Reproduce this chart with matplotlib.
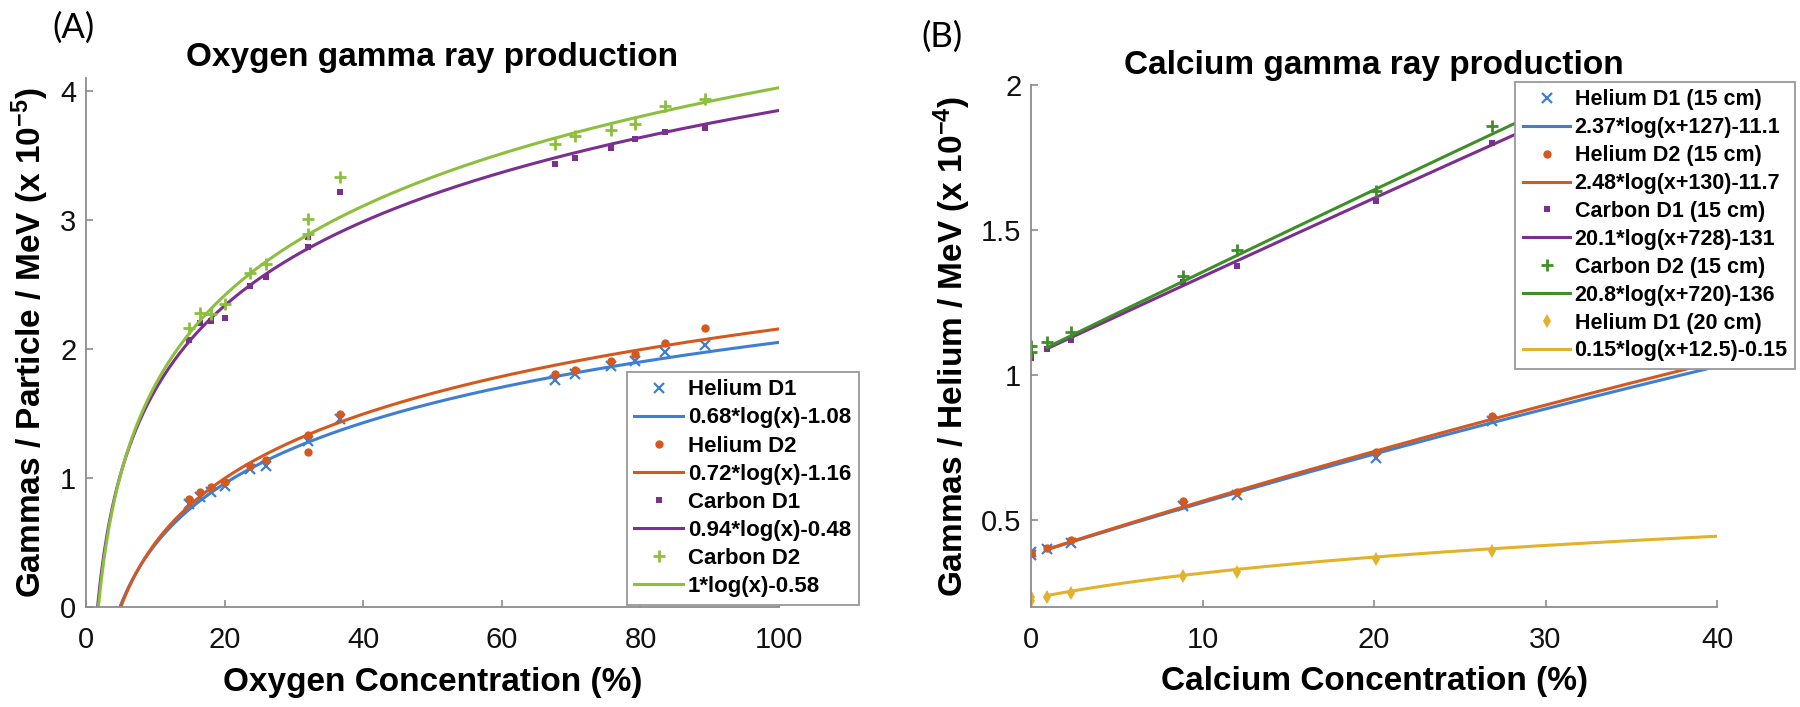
import numpy as np
import matplotlib
matplotlib.use("Agg")
import matplotlib.pyplot as plt

plt.rcParams['font.family'] = ['Liberation Sans', 'DejaVu Sans']
plt.rcParams['mathtext.fontset'] = 'custom'
plt.rcParams['mathtext.rm'] = 'Liberation Sans:bold'
plt.rcParams['mathtext.bf'] = 'Liberation Sans:bold'
plt.rcParams['mathtext.default'] = 'rm'

# ---- panel A: oxygen ----
o_x = [14.9, 16.5, 18.0, 20.0, 23.6, 25.9, 32.1, 36.7, 67.7, 70.6, 75.7, 79.2, 83.5, 89.3]
he_d1_o = [0.80, 0.85, 0.89, 0.94, 1.07, 1.09, 1.29, 1.46, 1.76, 1.81, 1.87, 1.91, 1.98, 2.03]
he_d2_o = [0.84, 0.89, 0.93, 0.97, 1.09, 1.14, 1.33, 1.50, 1.81, 1.84, 1.91, 1.96, 2.05, 2.16]
c_d1_o = [2.07, 2.20, 2.22, 2.24, 2.49, 2.56, 2.79, 3.22, 3.43, 3.48, 3.56, 3.63, 3.68, 3.71]
c_d2_o = [2.16, 2.28, 2.27, 2.35, 2.59, 2.66, 3.01, 3.33, 3.59, 3.65, 3.70, 3.74, 3.88, 3.94]
# extra repeated measurements at 32 %
o_x_extra = [32.1]
he_d2_o_extra = [1.20]
c_d1_o_extra = [2.87]
c_d2_o_extra = [2.89]

# fit y = a*log(x + b) + c
o_fit_a = [0.68, 0.72, 0.94, 1.0]
o_fit_b = [0, 0, 0, 0]
o_fit_c = [-1.08, -1.16, -0.48, -0.58]
o_names = ["Helium D1", "Helium D2", "Carbon D1", "Carbon D2"]
o_fit_labels = ["0.68*log(x)-1.08", "0.72*log(x)-1.16", "0.94*log(x)-0.48", "1*log(x)-0.58"]

# ---- panel B: calcium ----
ca_x = [0.0, 0.0, 0.95, 2.35, 8.85, 12.0, 20.1, 26.9]
he_d1_ca = [0.38, 0.39, 0.40, 0.42, 0.55, 0.585, 0.715, 0.84]
he_d2_ca = [0.385, 0.385, 0.405, 0.43, 0.565, 0.595, 0.735, 0.86]
c_d1_ca = [1.06, 1.07, 1.09, 1.12, 1.32, 1.375, 1.60, 1.80]
c_d2_ca = [1.08, 1.10, 1.115, 1.15, 1.34, 1.43, 1.635, 1.86]
he20_ca = [0.22, 0.235, 0.236, 0.247, 0.307, 0.322, 0.364, 0.394]

ca_fit_a = [2.37, 2.48, 20.1, 20.8, 0.15]
ca_fit_b = [127, 130, 728, 720, 12.5]
ca_fit_c = [-11.1, -11.69, -131.4, -135.78, -0.15]
ca_names = ["Helium D1 (15 cm)", "Helium D2 (15 cm)", "Carbon D1 (15 cm)",
            "Carbon D2 (15 cm)", "Helium D1 (20 cm)"]
ca_fit_labels = ["2.37*log(x+127)-11.1", "2.48*log(x+130)-11.7", "20.1*log(x+728)-131",
                 "20.8*log(x+720)-136", "0.15*log(x+12.5)-0.15"]

blue = '#3F7FD3'
orange = '#D5581F'
purple = '#7B2F8E'
lgreen = '#8DBF3E'
dgreen = '#3F8F29'
yellow = '#E3B12A'

mk = [dict(marker='x', ms=7, mew=1.6), dict(marker='o', ms=6, mew=0),
      dict(marker='s', ms=5, mew=0), dict(marker='+', ms=9, mew=2),
      dict(marker='d', ms=7, mew=0)]

fig = plt.figure(figsize=(18, 7.07), dpi=100)
axA = fig.add_axes([0.0478, 0.1414, 0.385, 0.7482])
axB = fig.add_axes([0.5728, 0.1414, 0.3811, 0.7383])


def style(ax):
    for s in ['top', 'right']:
        ax.spines[s].set_visible(False)
    for s in ['left', 'bottom']:
        ax.spines[s].set_color('#8c8c8c')
        ax.spines[s].set_linewidth(1.3)
    ax.tick_params(direction='in', length=5, width=1.2, color='#8c8c8c',
                   labelsize=21, labelcolor='#111111')
    ax.tick_params(axis='x', pad=14)
    ax.tick_params(axis='y', pad=7)


# panel A
colsA = [blue, orange, purple, lgreen]
ysA = [he_d1_o, he_d2_o, c_d1_o, c_d2_o]
extraA = [None, he_d2_o_extra, c_d1_o_extra, c_d2_o_extra]
xf = np.linspace(1, 100, 500)
handles = []
for i in range(4):
    ys = list(ysA[i])
    xs = list(o_x)
    if extraA[i] is not None:
        xs += o_x_extra
        ys += extraA[i]
    h1, = axA.plot(xs, ys, ls='none', color=colsA[i], mfc=colsA[i], mec=colsA[i],
                   label=o_names[i], **mk[i])
    h2, = axA.plot(xf, o_fit_a[i] * np.log(xf + o_fit_b[i]) + o_fit_c[i], color=colsA[i],
                   lw=2.2, label=o_fit_labels[i])
    handles += [h1, h2]
axA.set_xlim(0, 100)
axA.set_ylim(0, 4.1)
axA.set_xticks([0, 20, 40, 60, 80, 100])
axA.set_yticks([0, 1, 2, 3, 4])
style(axA)
axA.set_title("Oxygen gamma ray production", fontsize=24, fontweight='bold', pad=9)
axA.set_xlabel("Oxygen Concentration (%)", fontsize=24, fontweight='bold')
axA.set_ylabel("Gammas / Particle / MeV (x 10$^{-5}$)", fontsize=24, fontweight='bold')
axA.xaxis.set_label_coords(0.5, -0.142)
axA.xaxis.label.set_va('center')
axA.yaxis.set_label_coords(-0.081, 0.5)
axA.yaxis.label.set_va('center')
legA = axA.legend(handles=handles, loc='lower right', bbox_to_anchor=(1.115, 0.004),
                  borderaxespad=0, fancybox=False, framealpha=1, edgecolor='#999999',
                  prop={'weight': 'bold', 'size': 16}, handlelength=2.2,
                  handletextpad=0.2, labelspacing=0.32, borderpad=0.35)
legA.get_frame().set_linewidth(1.3)

# panel B
colsB = [blue, orange, purple, dgreen, yellow]
ysB = [he_d1_ca, he_d2_ca, c_d1_ca, c_d2_ca, he20_ca]
xf = np.linspace(0.95, 40, 300)
handles = []
for i in range(5):
    h1, = axB.plot(ca_x, ysB[i], ls='none', color=colsB[i], mfc=colsB[i], mec=colsB[i],
                   label=ca_names[i], **mk[i])
    h2, = axB.plot(xf, ca_fit_a[i] * np.log(xf + ca_fit_b[i]) + ca_fit_c[i], color=colsB[i],
                   lw=2.2, label=ca_fit_labels[i])
    handles += [h1, h2]
axB.set_xlim(0, 40)
axB.set_ylim(0.2, 2.0)
axB.set_xticks([0, 10, 20, 30, 40])
axB.set_yticks([0.5, 1, 1.5, 2])
axB.set_yticklabels(['0.5', '1', '1.5', '2'])
style(axB)
axB.set_title("Calcium gamma ray production", fontsize=24, fontweight='bold', pad=8)
axB.set_xlabel("Calcium Concentration (%)", fontsize=24, fontweight='bold')
axB.set_ylabel("Gammas / Helium / MeV (x 10$^{-4}$)", fontsize=24, fontweight='bold')
axB.xaxis.set_label_coords(0.5, -0.142)
axB.xaxis.label.set_va('center')
axB.yaxis.set_label_coords(-0.115, 0.5)
axB.yaxis.label.set_va('center')
legB = axB.legend(handles=handles, loc='upper right', bbox_to_anchor=(1.114, 1.006),
                  borderaxespad=0, fancybox=False, framealpha=1, edgecolor='#999999',
                  prop={'weight': 'bold', 'size': 15.5}, handlelength=2.2,
                  handletextpad=0.2, labelspacing=0.32, borderpad=0.35)
legB.get_frame().set_linewidth(1.3)

fig.text(73 / 1800, 1 - 28 / 707, "(A)", fontsize=25, family=['Lato', 'DejaVu Sans'],
         ha='center', va='center')
fig.text(942 / 1800, 1 - 37 / 707, "(B)", fontsize=25, family=['Lato', 'DejaVu Sans'],
         ha='center', va='center')

fig.savefig("out.png", dpi=100)
